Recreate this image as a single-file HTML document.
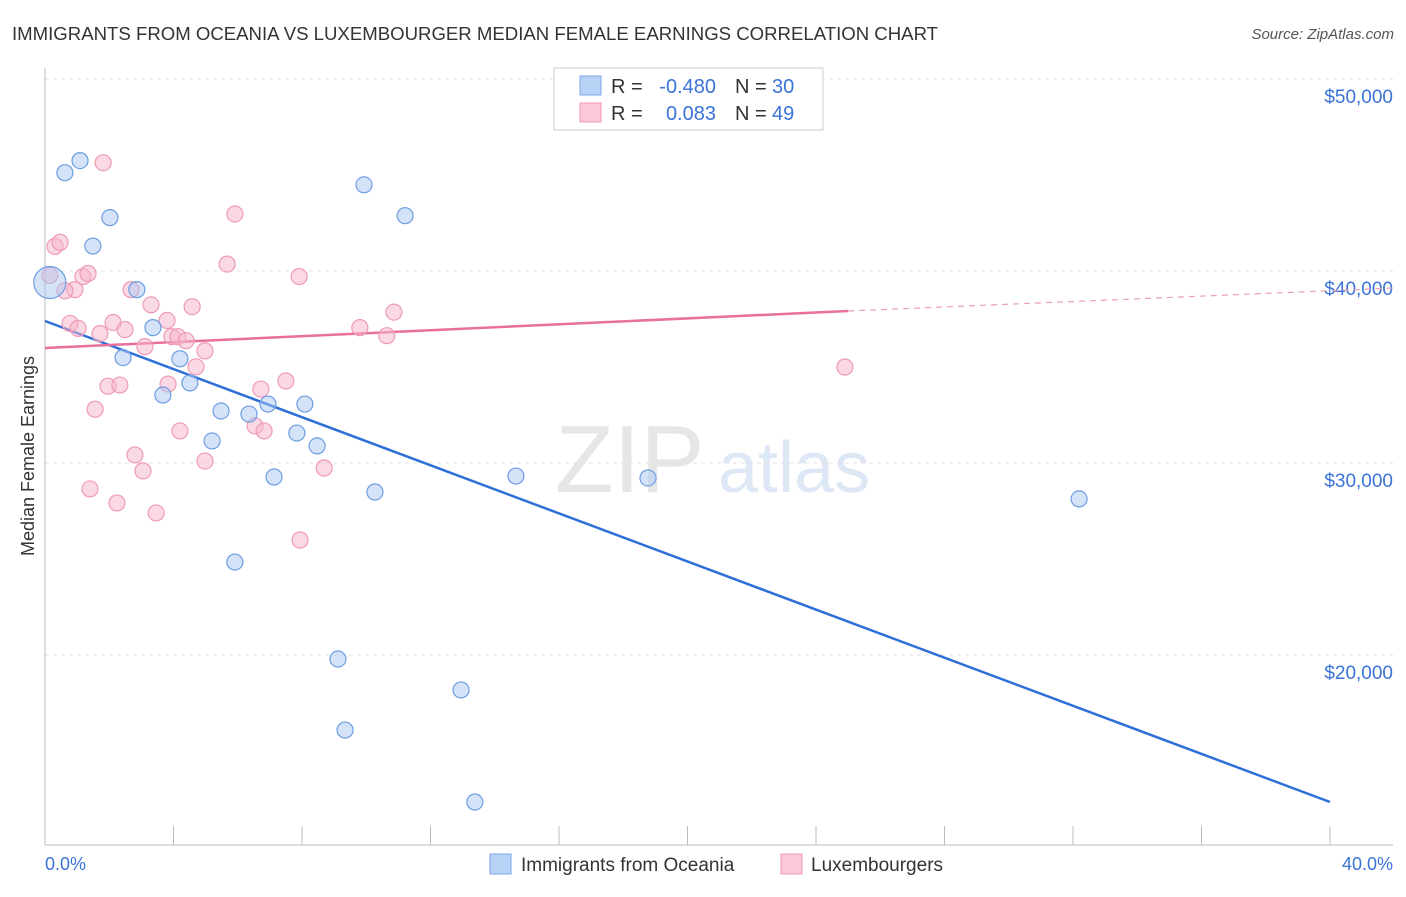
<!DOCTYPE html>
<html><head><meta charset="utf-8"><style>
body{margin:0;background:#fff;font-family:"Liberation Sans",sans-serif;}
svg text{font-family:"Liberation Sans",sans-serif;}
</style></head><body>
<svg id="c" width="1406" height="892">
<text x="12" y="40" font-size="18.6" fill="#333">IMMIGRANTS FROM OCEANIA VS LUXEMBOURGER MEDIAN FEMALE EARNINGS CORRELATION CHART</text>
<text x="1394" y="39" font-size="15" fill="#555" text-anchor="end" font-style="italic">Source: ZipAtlas.com</text>
<text x="555" y="492" font-size="96" fill="#e6e6e6" font-family="Liberation Serif">ZIP</text>
<text x="718" y="492" font-size="72" fill="#dde7f5">atlas</text>
<g id="grid"></g><g id="axes"></g><g id="trend"></g><g id="pts"></g>
<text transform="translate(34,456) rotate(-90)" font-size="18" fill="#333" text-anchor="middle">Median Female Earnings</text>
<text x="45" y="870" font-size="18" fill="#3a74d8">0.0%</text>
<text x="1393" y="870" font-size="18" fill="#3a74d8" text-anchor="end">40.0%</text>
<g>
<rect x="554" y="68" width="269" height="62" fill="#fff" stroke="#ccc"/>
<rect x="580" y="76" width="21" height="19" fill="#b8d2f5" stroke="#7ba6e8"/>
<rect x="580" y="103" width="21" height="19" fill="#fbc8d8" stroke="#f09ab6"/>
<text x="611" y="93" font-size="20" fill="#333">R =</text>
<text x="716" y="93" font-size="20" fill="#3a74d8" text-anchor="end">-0.480</text>
<text x="735" y="93" font-size="20" fill="#333">N =</text>
<text x="772" y="93" font-size="20" fill="#3a74d8">30</text>
<text x="611" y="120" font-size="20" fill="#333">R =</text>
<text x="716" y="120" font-size="20" fill="#3a74d8" text-anchor="end">0.083</text>
<text x="735" y="120" font-size="20" fill="#333">N =</text>
<text x="772" y="120" font-size="20" fill="#3a74d8">49</text>
</g>
<g>
<rect x="490" y="854" width="21" height="20" fill="#b8d2f5" stroke="#7ba6e8"/>
<text x="521" y="871" font-size="19" fill="#333">Immigrants from Oceania</text>
<rect x="781" y="854" width="21" height="20" fill="#fbc8d8" stroke="#f09ab6"/>
<text x="811" y="871" font-size="19" fill="#333">Luxembourgers</text>
</g>
</svg>
<script>
const yTicks=[20000,30000,40000,50000];
const yTickLabels=["$20,000","$30,000","$40,000","$50,000"];
const blueX=[0.15,0.62,1.09,2.02,1.49,2.86,3.36,2.43,4.20,3.67,4.51,5.48,5.20,6.35,6.94,8.09,7.13,7.84,8.47,5.91,9.93,11.21,10.27,9.12,9.34,12.95,13.38,14.66,18.77,32.19];
const blueY=[39400,45120,45750,42780,41300,39030,37050,35490,35430,33540,34170,32710,31150,32550,33070,33070,29270,31560,30890,24840,44490,42880,28490,19790,16090,18180,12344,29320,29220,28130];
const pinkX=[0.15,0.31,0.47,0.93,0.62,1.18,1.34,0.78,1.03,1.71,1.81,1.96,2.12,2.49,2.33,1.56,1.40,2.24,2.80,2.68,3.11,3.30,3.05,3.46,3.80,3.95,3.83,4.14,4.39,4.58,4.70,4.98,4.20,4.98,5.67,5.91,6.54,6.72,6.82,7.50,7.91,8.69,7.94,9.80,10.64,10.86,24.90];
const pinkY=[39770,41280,41490,39030,38970,39710,39870,37270,37010,36740,45640,34000,37320,36950,34060,32800,28650,27920,30420,39030,36060,38240,29590,27400,37420,36580,34110,36580,36370,38140,35010,35840,31670,30100,40360,42970,31930,33850,31670,34270,39710,29740,25990,37050,36630,37860,35000];
const blueTrendX=[0,40], blueTrendY=[37396,12344];
const pinkTrendX=[0,25,42], pinkTrendY=[35990,37917,39115];
const X0=45,X1=1330,sx=v=>X0+(v/40)*(X1-X0),sy=v=>79+(50000-v)*0.0192;
const NS="http://www.w3.org/2000/svg";
function mk(p,t,a){const e=document.createElementNS(NS,t);for(const k in a)e.setAttribute(k,a[k]);document.getElementById(p).appendChild(e);return e;}
yTicks.forEach((v,i)=>{
 const l=mk('grid','line',{x1:45,x2:1393,y1:sy(v),y2:sy(v),stroke:'#e2e2e2','stroke-dasharray':'4,4'});
 
 
 const t=mk('grid','text',{x:1393,y:sy(v)+24,'font-size':19,fill:'#3a74d8','text-anchor':'end'});
 t.textContent=yTickLabels[i];
 
 
});
const ax=mk('axes','line',{x1:45,x2:45,y1:68,y2:845,stroke:'#bbb'});


const bx=mk('axes','line',{x1:45,x2:1393,y1:845,y2:845,stroke:'#bbb'});


for(let i=0;i<=10;i++){const t=mk('axes','line',{x1:sx(i*4),x2:sx(i*4),y1:826,y2:845,stroke:'#bbb'});
 
 }
let b=mk('trend','line',{x1:sx(blueTrendX[0]),y1:sy(blueTrendY[0]),x2:sx(blueTrendX[1]),y2:sy(blueTrendY[1]),stroke:'#2f6fd8','stroke-width':2.5});


let p=mk('trend','line',{x1:sx(pinkTrendX[0]),y1:sy(pinkTrendY[0]),x2:sx(pinkTrendX[1]),y2:sy(pinkTrendY[1]),stroke:'#e8709a','stroke-width':2.5});


let pd=mk('trend','line',{x1:sx(pinkTrendX[1]),y1:sy(pinkTrendY[1]),x2:sx(pinkTrendX[2]),y2:sy(pinkTrendY[2]),stroke:'#e8a0b8','stroke-width':1.2,'stroke-dasharray':'6,5'});


pinkX.forEach((x,i)=>{const c=mk('pts','circle',{cx:sx(x),cy:sy(pinkY[i]),r:8,fill:'rgba(248,180,202,0.5)',stroke:'#ee9ab6','stroke-width':1.2});
 
 });
blueX.forEach((x,i)=>{const c=mk('pts','circle',{cx:sx(x),cy:sy(blueY[i]),r:i==0?16:8,fill:'rgba(170,200,242,0.5)',stroke:'#6d9de3','stroke-width':1.2});
 
 });
</script>
</body></html>
